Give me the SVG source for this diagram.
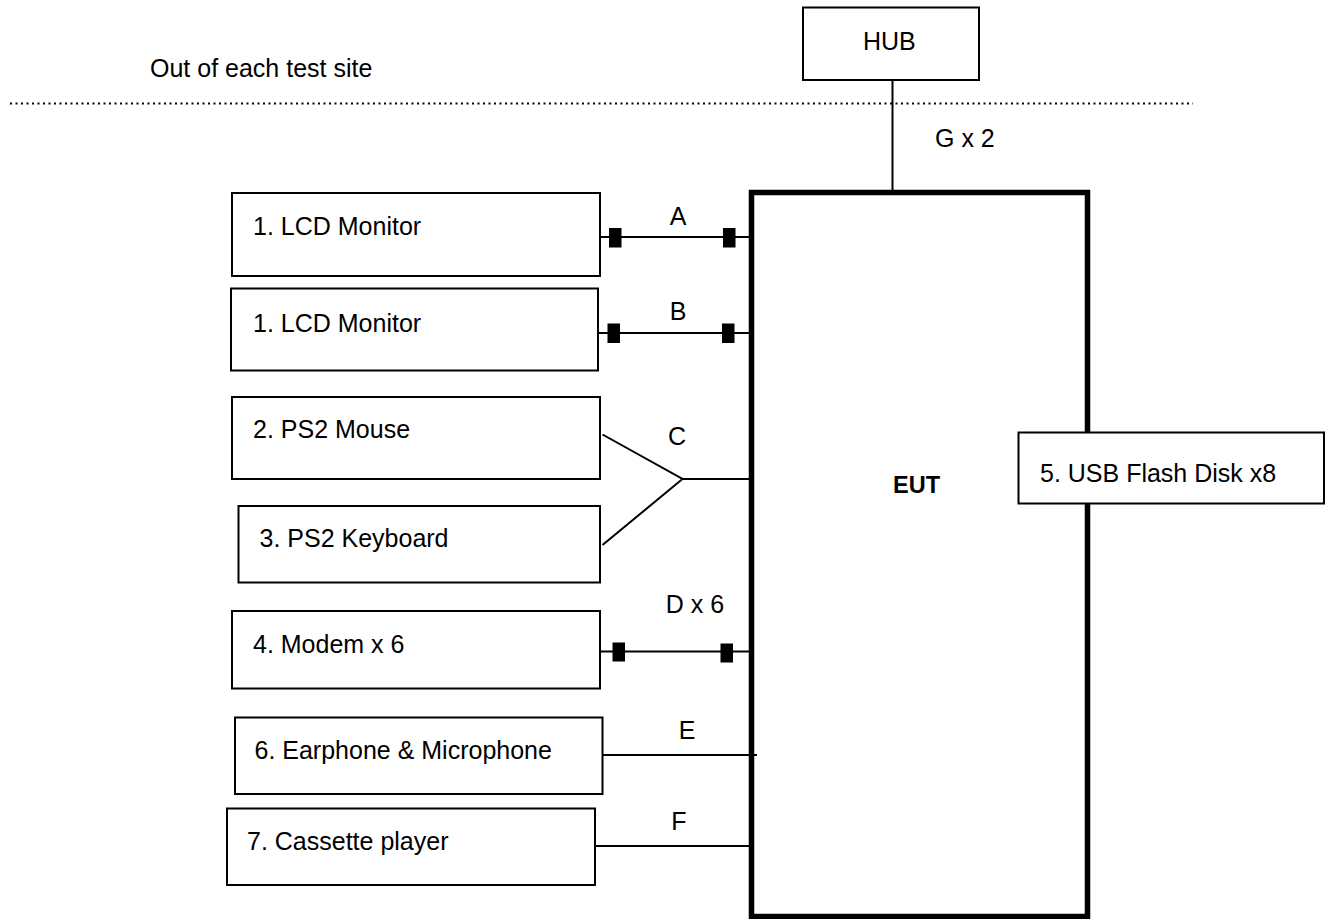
<svg xmlns="http://www.w3.org/2000/svg" width="1330" height="919" viewBox="0 0 1330 919">
<style>
text{font-family:"Liberation Sans",Arial,sans-serif;font-size:25px;fill:#000}
.box{fill:#fff;stroke:#000;stroke-width:2}
.eut{fill:none;stroke:#000;stroke-width:5.5}
.wire{stroke:#000;stroke-width:2;fill:none}
.plug{fill:#000}
.lbl{text-anchor:middle}
</style>
<rect width="1330" height="919" fill="#fff"/>
<g id="boundary">
<line x1="10" y1="103.5" x2="1193" y2="103.5" stroke="#000" stroke-width="2" stroke-dasharray="2 3.5"/>
<text x="150" y="77">Out of each test site</text>
</g>
<g id="connectors">
<line class="wire" x1="892.5" y1="80" x2="892.5" y2="192"/>
<text x="935" y="147">G x 2</text>
<line class="wire" x1="600" y1="237" x2="750" y2="237"/>
<rect class="plug" x="609" y="228" width="12.5" height="19.5"/>
<rect class="plug" x="723" y="228" width="12.5" height="19.5"/>
<text class="lbl" x="678" y="225">A</text>
<line class="wire" x1="598" y1="333" x2="750" y2="333"/>
<rect class="plug" x="607.5" y="323.5" width="12.5" height="19.5"/>
<rect class="plug" x="722" y="323.5" width="12.5" height="19.5"/>
<text class="lbl" x="678" y="320">B</text>
<polyline class="wire" points="602.5,434.5 682.5,479 602.5,545"/>
<line class="wire" x1="682.5" y1="479" x2="750" y2="479"/>
<text class="lbl" x="677" y="444.5">C</text>
<line class="wire" x1="600" y1="651.5" x2="750" y2="651.5"/>
<rect class="plug" x="612.5" y="642.5" width="12.5" height="19"/>
<rect class="plug" x="720.5" y="643.5" width="12.5" height="19"/>
<text class="lbl" x="695" y="613">D x 6</text>
<line class="wire" x1="602.5" y1="755" x2="757" y2="755"/>
<text class="lbl" x="687" y="739">E</text>
<line class="wire" x1="595" y1="846" x2="750" y2="846"/>
<text class="lbl" x="679" y="830">F</text>
</g>
<g id="hub">
<rect class="box" x="803" y="7.5" width="176" height="72.5"/>
<text x="863" y="50">HUB</text>
</g>
<g id="eut">
<rect class="eut" x="751.5" y="192.5" width="336" height="724"/>
<text x="893" y="493" style="font-weight:bold;font-size:23.5px">EUT</text>
</g>
<g id="lcd1">
<rect class="box" x="232" y="193" width="368" height="83"/>
<text x="253" y="235">1. LCD Monitor</text>
</g>
<g id="lcd2">
<rect class="box" x="231" y="288.5" width="367" height="82"/>
<text x="253" y="332">1. LCD Monitor</text>
</g>
<g id="mouse">
<rect class="box" x="232" y="397" width="368" height="82"/>
<text x="253" y="438">2. PS2 Mouse</text>
</g>
<g id="keyboard">
<rect class="box" x="238.5" y="506" width="361.5" height="76.5"/>
<text x="259.5" y="547">3. PS2 Keyboard</text>
</g>
<g id="modem">
<rect class="box" x="232" y="611" width="368" height="77.5"/>
<text x="253" y="653">4. Modem x 6</text>
</g>
<g id="usb">
<rect class="box" x="1018.5" y="432.5" width="305.5" height="71"/>
<text x="1040" y="482">5. USB Flash Disk x8</text>
</g>
<g id="earphone">
<rect class="box" x="235" y="717.5" width="367.5" height="76.5"/>
<text x="254.5" y="759">6. Earphone &amp; Microphone</text>
</g>
<g id="cassette">
<rect class="box" x="227" y="808.5" width="368" height="76.5"/>
<text x="247" y="850">7. Cassette player</text>
</g>
</svg>
